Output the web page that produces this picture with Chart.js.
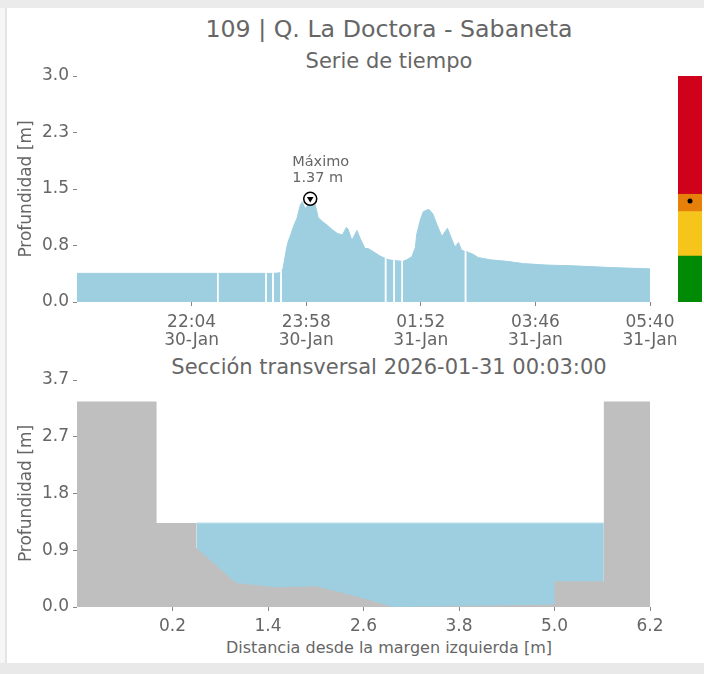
<!DOCTYPE html>
<html>
<head>
<meta charset="utf-8">
<script src="https://cdn.jsdelivr.net/npm/chart.js@4.4.1/dist/chart.umd.min.js"></script>
<style>
  html, body { margin:0; padding:0; }
  body { width:704px; height:674px; overflow:hidden; background:#f6f6f6; position:relative; font-family:'DejaVu Sans', sans-serif; color:#666; }
  #topband { position:absolute; left:0; top:0; width:704px; height:8px; background:#ebebeb; }
  #bottomband { position:absolute; left:0; top:663px; width:704px; height:11px; background:#e9e9e9; }
  #panel { position:absolute; left:5px; top:8px; width:699px; height:655px; background:#fff; border-left:2px solid #e4e4e4; box-sizing:border-box; }
  canvas { position:absolute; }
  .ttl { position:absolute; left:389px; transform:translateX(-50%); white-space:nowrap; color:#666; }
</style>
</head>
<body>
<div id="topband"></div>
<div id="panel"></div>
<div id="bottomband"></div>
<div class="ttl" style="top:17px;font-size:23.7px;line-height:24px;">109 | Q. La Doctora - Sabaneta</div>
<div class="ttl" style="top:51px;font-size:21px;line-height:21px;">Serie de tiempo</div>
<div class="ttl" style="top:357px;font-size:21px;line-height:21px;">Sección transversal 2026-01-31 00:03:00</div>
<div class="ttl" style="top:640px;font-size:16px;line-height:16px;">Distancia desde la margen izquierda [m]</div>
<canvas id="ts" width="698" height="292" style="left:6px;top:61px;width:698px;height:292px;"></canvas>
<canvas id="bar" width="24" height="226" style="left:678px;top:76px;width:24px;height:226px;"></canvas>
<canvas id="xs" width="698" height="297" style="left:6px;top:365px;width:698px;height:297px;"></canvas>
<script>
// ---------- Time series (minutes after 30-Jan 20:10) ----------
const timeMin = [0, 139.25, 140, 140.75, 187.25, 188, 188.75, 194.25, 195, 195.75, 200, 202.25, 203, 203.75,
  205, 207, 208.5, 210, 212, 215, 219, 222, 224, 227, 230, 232, 234, 237, 240, 244, 249, 254, 259, 264,
  268, 269.5, 273.5, 278.5, 281.5, 286.5, 289.5, 294.5, 301.5, 306.25, 307, 307.75, 311, 314.75, 315.5,
  316.25, 322.75, 323.5, 324.25, 328, 333, 336.5, 338, 341.5, 344.5, 350, 354, 358, 363, 366, 368.5, 372,
  376, 379.5, 382.5, 385.75, 386.5, 387.25, 394.5, 399, 411, 427.5, 444, 467.5, 494, 527, 547, 570];
const depthM = [0.38, 0.38, null, 0.38, 0.38, null, 0.38, 0.38, null, 0.38, 0.385, 0.39, null, 0.41,
  0.45, 0.60, 0.72, 0.80, 0.87, 0.99, 1.12, 1.28, 1.33, 1.24, 1.29, 1.37, 1.27, 1.29, 1.12, 1.07, 1.02, 0.96, 0.91, 0.89,
  0.99, 0.97, 0.82, 0.95, 0.85, 0.71, 0.71, 0.67, 0.61, 0.58, null, 0.57, 0.56, 0.55, null,
  0.55, 0.54, null, 0.54, 0.56, 0.60, 0.72, 0.90, 1.09, 1.20, 1.23, 1.17, 1.03, 0.87, 0.93, 0.98, 0.86,
  0.73, 0.79, 0.69, 0.67, null, 0.67, 0.63, 0.59, 0.56, 0.54, 0.51, 0.49, 0.48, 0.46, 0.45, 0.44];
const timeTickPositions = [114, 228, 342, 456, 570];
const timeTickLabels = [["22:04", "30-Jan"], ["23:58", "30-Jan"], ["01:52", "31-Jan"], ["03:46", "31-Jan"], ["05:40", "31-Jan"]];
const depthTickValues = [0, 0.75, 1.5, 2.25, 3.0];
const depthTickLabels = ["0.0", "0.8", "1.5", "2.3", "3.0"];

// ---------- Alert levels (colour bar) ----------
const alertUpper = [0.61, 1.20, 1.43, 3.0];
const alertColors = ["#008a05", "#f6c51c", "#e6800a", "#d0021b"];
const currentLevel = 1.34;

// ---------- Cross section ----------
const groundX = [-1, 0, 0, 0.5, 0.5, 1.0, 1.5, 2.0, 2.55, 2.97, 5.0, 5.0, 5.62, 5.62, 6.2];
const groundY = [3.35, 3.35, 1.37, 1.37, 0.96, 0.39, 0.32, 0.34, 0.16, 0.0, 0.04, 0.42, 0.42, 3.35, 3.35];
const waterX = [0.5, 5.62];
const waterLevel = 1.37;
const sectionXTicks = [0.2, 1.4, 2.6, 3.8, 5.0, 6.2];
const sectionYTickValues = [0, 0.925, 1.85, 2.775, 3.7];
const sectionYTickLabels = ["0.0", "0.9", "1.8", "2.7", "3.7"];

// ---------- Charts ----------
Chart.defaults.font.family = "'DejaVu Sans', sans-serif";
Chart.defaults.color = '#666';
const WATER = '#9ecfe0';
const GREY_TXT = '#666';
const TICK_COL = '#888';

let iMax = 0;
depthM.forEach((v, i) => { if (v !== null && v > depthM[iMax]) iMax = i; });
const maxPt = { x: timeMin[iMax], y: depthM[iMax] };
const seriesPts = timeMin.map((t, i) => ({ x: t, y: depthM[i] }));

const axisCommon = () => ({
  grid: { display: true, drawOnChartArea: false, drawTicks: true, tickLength: 4, color: TICK_COL, tickColor: TICK_COL },
  border: { display: false }
});

const maxLabel = {
  id: 'maxLabel',
  afterDatasetsDraw(chart) {
    const m = chart.getDatasetMeta(1).data[0];
    const c = chart.ctx;
    c.save();
    c.font = "14.5px 'DejaVu Sans', sans-serif";
    c.fillStyle = GREY_TXT;
    c.textAlign = 'left';
    c.textBaseline = 'alphabetic';
    c.fillText('Máximo', m.x - 18, m.y - 33);
    c.fillText(maxPt.y.toFixed(2) + ' m', m.x - 18, m.y - 17);
    c.restore();
  }
};

new Chart(document.getElementById('ts'), {
  type: 'line',
  data: {
    datasets: [
      { data: [maxPt], showLine: false, pointStyle: 'triangle', rotation: 180, pointRadius: 3.8,
        pointBackgroundColor: '#000', pointBorderColor: '#000', pointBorderWidth: 0 },
      { data: [maxPt], showLine: false, pointStyle: 'circle', pointRadius: 6.5,
        pointBackgroundColor: '#fff', pointBorderColor: '#000', pointBorderWidth: 1.5 },
      { data: seriesPts, borderColor: WATER, backgroundColor: WATER, borderWidth: 1, fill: 'origin',
        pointRadius: 0, spanGaps: false, tension: 0 }
    ]
  },
  options: {
    responsive: false, animation: false, events: [],
    layout: { autoPadding: false, padding: { top: 15, right: 54, left: 0, bottom: 0 } },
    plugins: { legend: { display: false }, tooltip: { enabled: false } },
    scales: {
      x: Object.assign(axisCommon(), {
        type: 'linear', min: 0, max: 570,
        afterBuildTicks: s => { s.ticks = timeTickPositions.map(v => ({ value: v })); },
        afterFit: s => { s.height = 51; },
        ticks: { callback: (v, i) => timeTickLabels[i], maxRotation: 0, autoSkip: false, padding: 7,
          font: { size: 17, lineHeight: 1.1 }, color: GREY_TXT }
      }),
      y: Object.assign(axisCommon(), {
        min: 0, max: 3,
        afterBuildTicks: s => { s.ticks = depthTickValues.map(v => ({ value: v })); },
        afterFit: s => { s.width = 71; },
        ticks: { callback: (v, i) => depthTickLabels[i], padding: 4, font: { size: 17 }, color: GREY_TXT },
        title: { display: true, text: 'Profundidad [m]', font: { size: 17 }, color: GREY_TXT, padding: { top: 10, bottom: 0 } }
      })
    }
  },
  plugins: [maxLabel]
});

const segs = alertUpper.map((u, i) => u - (i ? alertUpper[i - 1] : 0));
new Chart(document.getElementById('bar'), {
  type: 'bar',
  data: {
    labels: [''],
    datasets: [
      { type: 'line', data: [currentLevel], yAxisID: 'y2', showLine: false, pointRadius: 2.5,
        pointBackgroundColor: '#000', pointBorderWidth: 0, order: 0 }
    ].concat(segs.map((d, i) => ({ data: [d], backgroundColor: alertColors[i], borderWidth: 0,
        barPercentage: 1, categoryPercentage: 1, yAxisID: 'y', order: 1 })))
  },
  options: {
    responsive: false, animation: false, events: [],
    layout: { autoPadding: false, padding: 0 },
    plugins: { legend: { display: false }, tooltip: { enabled: false } },
    scales: {
      x: { display: false, stacked: true },
      y: { display: false, stacked: true, min: 0, max: 3 },
      y2: { display: false, min: 0, max: 3 }
    }
  }
});

new Chart(document.getElementById('xs'), {
  type: 'line',
  data: {
    datasets: [
      { data: groundX.map((x, i) => ({ x: x, y: groundY[i] })), borderColor: 'rgba(0,0,0,0)', borderWidth: 1,
        backgroundColor: '#bfbfbf', fill: 'origin', pointRadius: 0, tension: 0 },
      { data: waterX.map(x => ({ x: x, y: waterLevel })), borderColor: '#c4e3ec', borderWidth: 1,
        backgroundColor: WATER, fill: 'origin', pointRadius: 0, tension: 0 }
    ]
  },
  options: {
    responsive: false, animation: false, events: [],
    layout: { autoPadding: false, padding: { top: 15, right: 54, left: 0, bottom: 0 } },
    plugins: { legend: { display: false }, tooltip: { enabled: false } },
    scales: {
      x: Object.assign(axisCommon(), {
        type: 'linear', min: -1, max: 6.2,
        afterBuildTicks: s => { s.ticks = sectionXTicks.map(v => ({ value: v })); },
        afterFit: s => { s.height = 55; },
        ticks: { callback: v => v.toFixed(1), maxRotation: 0, autoSkip: false, padding: 5,
          font: { size: 17 }, color: GREY_TXT }
      }),
      y: Object.assign(axisCommon(), {
        min: 0, max: 3.7,
        afterBuildTicks: s => { s.ticks = sectionYTickValues.map(v => ({ value: v })); },
        afterFit: s => { s.width = 71; },
        ticks: { callback: (v, i) => sectionYTickLabels[i], padding: 4, font: { size: 17 }, color: GREY_TXT },
        title: { display: true, text: 'Profundidad [m]', font: { size: 17 }, color: GREY_TXT, padding: { top: 10, bottom: 0 } }
      })
    }
  }
});
</script>
</body>
</html>
